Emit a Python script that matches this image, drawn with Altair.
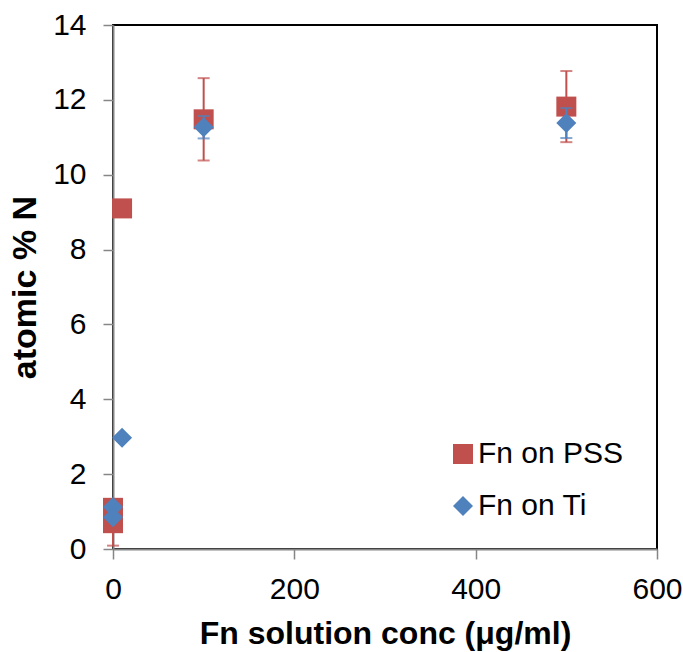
import altair as alt
import pandas as pd

series_names = ["Fn on PSS", "Fn on Ti"]
colors = ["#C0504D", "#4F81BD"]

pss_x = [0, 0, 10, 100, 500]
pss_y = [1.1, 0.69, 9.1, 11.48, 11.82]
pss_err = [0, 0.6, 0, 1.1, 0.95]

ti_x = [0, 0, 10, 100, 500]
ti_y = [1.12, 0.85, 2.97, 11.27, 11.38]
ti_err = [0, 0, 0, 0.3, 0.4]

x_ticks = [0, 200, 400, 600]
y_ticks = [0, 2, 4, 6, 8, 10, 12, 14]

rows = []
for name, xs_, ys_, es_ in [(series_names[0], pss_x, pss_y, pss_err),
                            (series_names[1], ti_x, ti_y, ti_err)]:
    for x, y, e in zip(xs_, ys_, es_):
        rows.append({"series": name, "conc": x, "n": y, "err": e,
                     "lo": y - e, "hi": y + e})
df = pd.DataFrame(rows)

FONT = "Liberation Sans"
xs = alt.Scale(domain=[0, 600], nice=False)
ys = alt.Scale(domain=[0, 14], nice=False)
col_scale = alt.Scale(domain=series_names, range=colors)
shape_scale = alt.Scale(domain=series_names, range=["square", "diamond"])

xax = alt.Axis(values=x_ticks, title="Fn solution conc (μg/ml)", labelFlush=False)
yax = alt.Axis(values=y_ticks, title="atomic % N", labelFlush=False)
leg = alt.Legend(title=None, orient="none", legendX=335, legendY=414)


def color_enc():
    return alt.Color("series:N", scale=col_scale, legend=leg)


def layers_for(name):
    d = df[df["series"] == name]
    de = d[d["err"] > 0]
    base_e = alt.Chart(de)
    rule = base_e.mark_rule(strokeWidth=2).encode(
        x=alt.X("conc:Q", scale=xs, axis=xax),
        y=alt.Y("lo:Q", scale=ys, axis=yax),
        y2="hi:Q",
        color=color_enc(),
    )
    cap_lo = base_e.mark_tick(orient="horizontal", size=12, thickness=2).encode(
        x=alt.X("conc:Q", scale=xs, axis=xax),
        y=alt.Y("lo:Q", scale=ys, axis=yax),
        color=color_enc(),
    )
    cap_hi = base_e.mark_tick(orient="horizontal", size=12, thickness=2).encode(
        x=alt.X("conc:Q", scale=xs, axis=xax),
        y=alt.Y("hi:Q", scale=ys, axis=yax),
        color=color_enc(),
    )
    pts = alt.Chart(d).mark_point(filled=True, opacity=1, size=400).encode(
        x=alt.X("conc:Q", scale=xs, axis=xax),
        y=alt.Y("n:Q", scale=ys, axis=yax),
        color=color_enc(),
        shape=alt.Shape("series:N", scale=shape_scale, legend=leg),
    )
    return [rule, cap_lo, cap_hi, pts]


chart = alt.layer(*(layers_for(series_names[0]) + layers_for(series_names[1]))).properties(
    width=544, height=524,
    autosize=alt.AutoSizeParams(type="none"),
    padding={"left": 113, "top": 25, "right": 26, "bottom": 103},
).configure_view(
    stroke="#000000", strokeWidth=2
).configure_axis(
    grid=False,
    domainColor="#868686", domainWidth=2,
    tickColor="#868686", tickSize=10, tickWidth=1.5,
    labelFont=FONT, labelFontSize=30, labelColor="black",
    titleFont=FONT, titleFontSize=32, titleFontWeight="bold", titleColor="black",
    zindex=1,
).configure_axisX(
    labelPadding=15, titlePadding=14,
).configure_axisY(
    labelPadding=17, titlePadding=10, titleFontSize=34,
).configure_legend(
    labelFont=FONT, labelFontSize=30, labelColor="black",
    symbolSize=400, symbolStrokeWidth=0, rowPadding=22, labelOffset=0,
    padding=0, symbolOpacity=1,
)

chart.save("out.html", embed_options={"renderer": "svg", "actions": False})
